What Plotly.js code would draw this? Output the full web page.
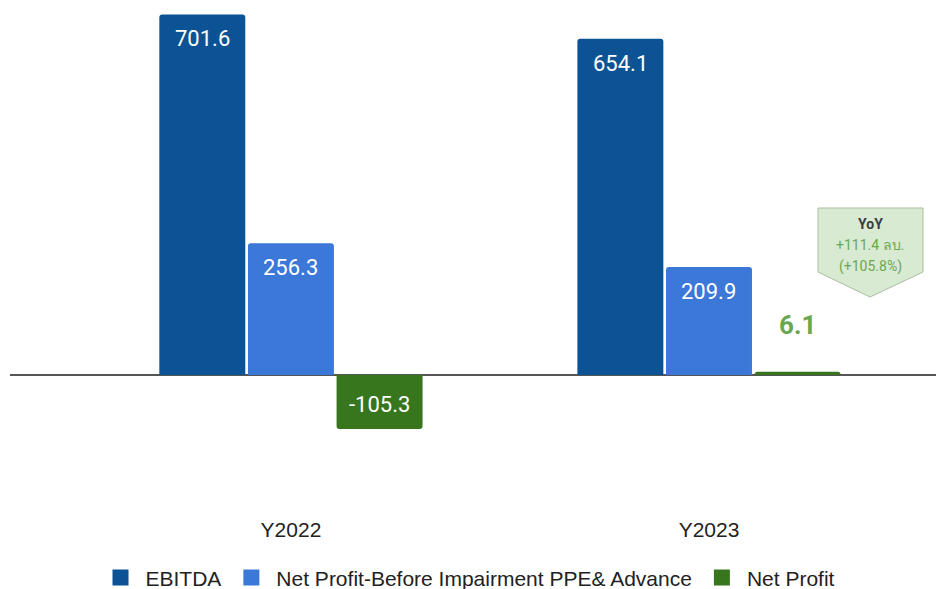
<!DOCTYPE html>
<html><head><meta charset="utf-8">
<script src="https://cdn.plot.ly/plotly-3.0.1.min.js"></script>
<style>html,body{margin:0;padding:0;background:#fff}#chart{width:936px;height:589px}</style>
</head><body><div id="chart"></div>
<script>
const categories = ['Y2022', 'Y2023'];
const seriesNames = ['EBITDA', 'Net Profit-Before Impairment PPE& Advance', 'Net Profit'];
const ebitda = [701.6, 654.1];
const npBefore = [256.3, 209.9];
const netProfit = [-105.3, 6.1];
const yoyLines = ['YoY', '+111.4 ลบ.', '(+105.8%)'];

const colors = ['#0b5394', '#3c78d8', '#38761d'];
const series = [ebitda, npBefore, netProfit];
const bargap = 0.364, bargroupgap = 0.03;
const font = 'Roboto, Arial, sans-serif';
const arial = '"Liberation Sans", Arial, sans-serif';

const traces = series.map((vals, i) => ({
  type: 'bar', name: seriesNames[i], x: categories, y: vals,
  marker: {color: colors[i], cornerradius: 3},
  hoverinfo: 'none', showlegend: false
}));
// legend entries with larger square swatches
seriesNames.forEach((n, i) => traces.push({
  type: 'scatter', mode: 'markers', name: n, x: [null], y: [null],
  marker: {symbol: 'square', size: 17, color: colors[i]}, hoverinfo: 'none', showlegend: true
}));

const slot = (1 - bargap) / series.length;
const annotations = [];
series.forEach((vals, i) => {
  vals.forEach((v, j) => {
    const x = j + (i - (series.length - 1) / 2) * slot;
    const small = Math.abs(v) < 50;
    if (small) {
      annotations.push({x, y: v, xref: 'x', yref: 'y', text: '<b>' + v.toFixed(1) + '</b>',
        showarrow: false, yanchor: 'bottom', yshift: 30,
        font: {family: font, size: 26, color: '#6aa84f'}});
    } else {
      annotations.push({x, y: v, xref: 'x', yref: 'y', text: v.toFixed(1), showarrow: false,
        yanchor: v >= 0 ? 'top' : 'bottom', yshift: v >= 0 ? -10 : 10,
        font: {family: font, size: 22, color: '#ffffff'}});
    }
  });
});

// plot area: x 10..936, y 0..515 px
const px = x => (x - 10) / 926, py = y => (515 - y) / 515;
const calloutPath = `M ${px(818)},${py(208)} L ${px(923)},${py(208)} L ${px(923)},${py(272)} L ${px(870)},${py(297)} L ${px(818)},${py(272)} Z`;
const yoyY = [224, 245, 266];
yoyLines.forEach((t, k) => {
  annotations.push({x: px(870), y: py(yoyY[k]), xref: 'paper', yref: 'paper', showarrow: false,
    text: k === 0 ? '<b>' + t + '</b>' : t, xanchor: 'center', yanchor: 'middle',
    font: {family: font, size: 14, color: k === 0 ? '#3d3d3d' : '#6aa84f'}});
});

const layout = {
  width: 936, height: 589,
  margin: {l: 10, r: 0, t: 0, b: 74},
  paper_bgcolor: '#ffffff', plot_bgcolor: '#ffffff',
  barmode: 'group', bargap, bargroupgap,
  showlegend: true,
  legend: {orientation: 'h', xref: 'container', yref: 'container', x: 0.5, xanchor: 'center',
    y: 0.019, yanchor: 'middle', itemsizing: 'trace', itemwidth: 40, tracegroupgap: 0,
    font: {family: arial, size: 21, color: '#222222'}},
  xaxis: {type: 'category', range: [-0.672, 1.543], showgrid: false, showline: false, ticks: '',
    tickfont: {family: arial, size: 21, color: '#222222'}, fixedrange: true},
  yaxis: {range: [-272.4, 729.6], showgrid: false, showticklabels: false, zeroline: true,
    zerolinecolor: '#555555', zerolinewidth: 2, fixedrange: true},
  shapes: [{type: 'path', xref: 'paper', yref: 'paper', path: calloutPath,
    fillcolor: '#d9ead3', line: {color: '#a9bfa0', width: 1}, layer: 'above'}],
  annotations
};
Plotly.newPlot('chart', traces, layout, {displayModeBar: false, staticPlot: true});
</script></body></html>
